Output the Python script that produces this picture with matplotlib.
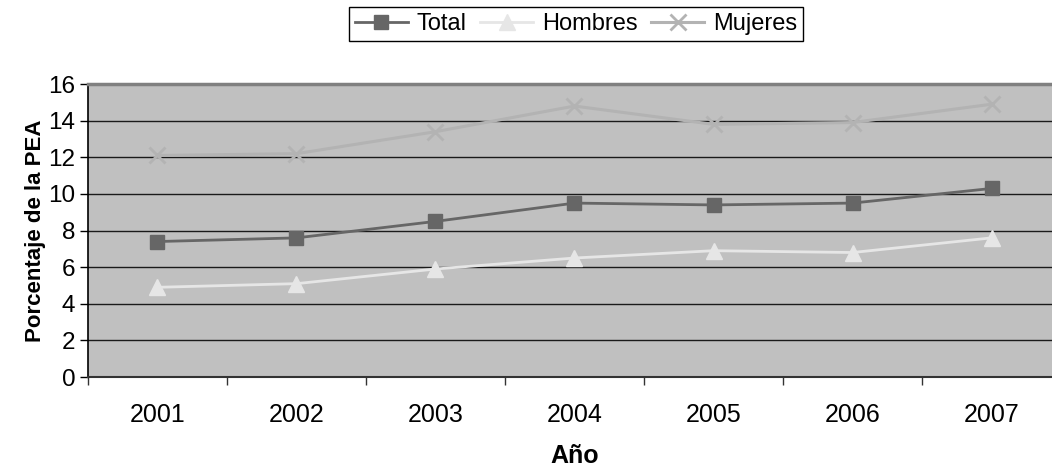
import matplotlib
matplotlib.use("Agg")
import matplotlib.pyplot as plt
import numpy as np

years = ["2001", "2002", "2003", "2004", "2005", "2006", "2007"]
total = [7.4, 7.6, 8.5, 9.5, 9.4, 9.5, 10.3]
hombres = [4.9, 5.1, 5.9, 6.5, 6.9, 6.8, 7.6]
mujeres = [12.1, 12.2, 13.4, 14.8, 13.8, 13.9, 14.9]
yticks = [0, 2, 4, 6, 8, 10, 12, 14, 16]

plt.rcParams['font.family'] = ['Liberation Sans', 'DejaVu Sans']

fig = plt.figure(figsize=(10.52, 4.74), dpi=100)
ax = fig.add_axes([0.0836, 0.2046, 0.925, 0.618])
ax.set_facecolor('#C0C0C0')

x = np.arange(len(years))
ax.plot(x, total, color='#666666', lw=2.0, marker='s', ms=10,
        mfc='#666666', mec='#666666', label='Total', zorder=4)
ax.plot(x, hombres, color='#E6E6E6', lw=2.0, marker='^', ms=12,
        mfc='#E6E6E6', mec='#E6E6E6', label='Hombres', zorder=4)
ax.plot(x, mujeres, color='#B3B3B3', lw=2.2, marker='x', ms=11, mew=2,
        mfc='#B3B3B3', mec='#B3B3B3', label='Mujeres', zorder=4)

ax.set_xlim(-0.5, len(years) - 0.5)
ax.set_ylim(0, 16)
ax.set_yticks(yticks)
ax.set_yticklabels([str(v) for v in yticks], fontsize=17.5)
ax.set_xticks(x)
ax.set_xticklabels(years, fontsize=18)
ax.set_xticks(np.arange(len(years) + 1) - 0.5, minor=True)
ax.tick_params(axis='x', which='major', length=0, pad=19)
ax.tick_params(axis='x', which='minor', length=6, width=1, color='#333333', direction='out')
ax.tick_params(axis='y', length=6, width=1, direction='out', pad=3)

ax.grid(axis='y', color='#1a1a1a', lw=1.0, zorder=1)
ax.set_axisbelow(True)

ax.spines['left'].set_color('#000000')
ax.spines['left'].set_linewidth(1.2)
ax.spines['bottom'].set_color('#333333')
ax.spines['bottom'].set_linewidth(1.5)
ax.spines['top'].set_color('#808080')
ax.spines['top'].set_linewidth(2.5)
ax.spines['right'].set_visible(False)

ax.set_ylabel('Porcentaje de la PEA', fontsize=16, fontweight='bold', labelpad=2)
ax.set_xlabel('Año', fontsize=18, fontweight='bold', labelpad=12)

leg = fig.legend(loc='center', bbox_to_anchor=(0.5475, 0.949), ncol=3,
                 fontsize=17, frameon=True, fancybox=False, framealpha=1,
                 edgecolor='#000000', handlelength=2.25, handletextpad=0.38,
                 columnspacing=0.56, borderpad=0.25, borderaxespad=0)
leg.get_frame().set_linewidth(1.0)

fig.savefig('out.png', dpi=100)
